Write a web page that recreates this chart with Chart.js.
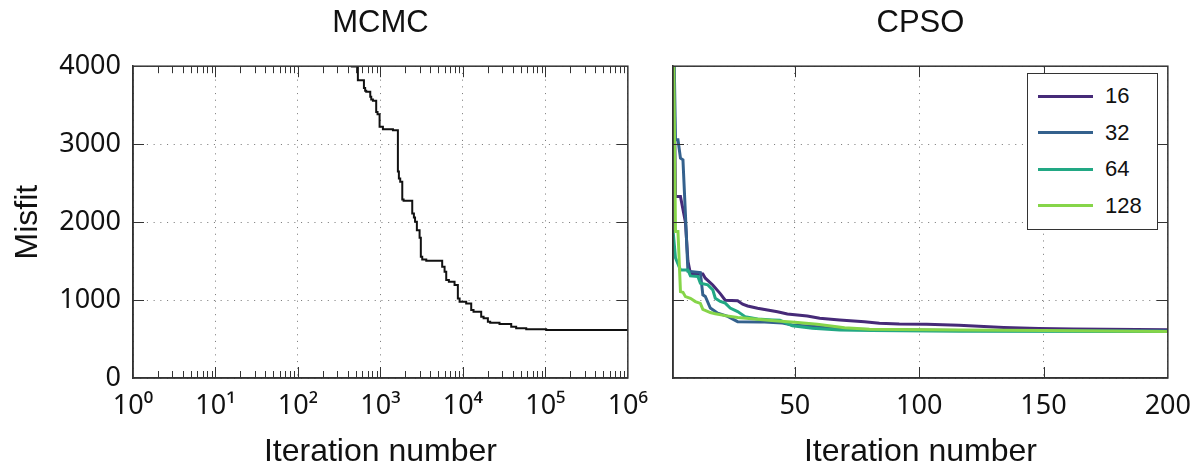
<!DOCTYPE html>
<html>
<head>
<meta charset="utf-8">
<script src="https://cdn.jsdelivr.net/npm/chart.js@4/dist/chart.umd.min.js"></script>
<style>
html,body{margin:0;padding:0;background:#fff;}
#wrap{position:relative;width:1203px;height:466px;overflow:hidden;background:#fff;}
#cA{position:absolute;left:0;top:0;width:660px;height:466px;}
#cB{position:absolute;left:660px;top:0;width:543px;height:466px;}
#legend{position:absolute;left:1027px;top:73px;width:131px;height:157px;box-sizing:border-box;border:1.5px solid #333;background:#fff;font-family:"Liberation Sans",Arial,sans-serif;font-size:22px;color:#111;}
.item{position:absolute;left:9.5px;height:30px;display:flex;align-items:center;line-height:30px;}
.swatch{width:55px;height:3px;margin-right:12.5px;}
</style>
</head>
<body>
<div id="wrap">
  <canvas id="cA" width="660" height="466"></canvas>
  <canvas id="cB" width="543" height="466"></canvas>
  <div id="legend"></div>
</div>
<script>
// ---------------- DATA ----------------
const panelTitles = ['MCMC', 'CPSO'];
const xAxisTitle = 'Iteration number';
const yAxisTitle = 'Misfit';

// MCMC: best misfit vs iteration (log x)
const mcmcIter = [1, 40, 200, 450, 533, 631, 653, 673, 753, 774, 811, 889, 923, 977, 1072, 1419, 1629, 1675, 1738, 1841, 1910, 2432, 2547, 2630, 2767, 2985, 3090, 3214, 3597, 5610, 5998, 6281, 6761, 7925, 8690, 9120, 10965, 12618, 13459, 16672, 17824, 20091, 21429, 27797, 38548, 44259, 58614, 102329, 1000000];
const mcmcMisfit = [9800, 7000, 5000, 4200, 3995, 3820, 3720, 3684, 3671, 3607, 3573, 3556, 3414, 3385, 3222, 3192, 3179, 2650, 2560, 2517, 2291, 2274, 2111, 2060, 2004, 1897, 1800, 1556, 1521, 1504, 1427, 1363, 1256, 1235, 1192, 1021, 979, 957, 872, 850, 786, 765, 722, 709, 692, 658, 637, 624, 615];

// CPSO: swarm sizes
const cpsoLabels = ['16', '32', '64', '128'];
const cpsoColors = ['#462a78', '#34618d', '#22a884', '#86d549'];

const cpso16Iter = [1, 2, 4, 6, 7, 8, 13, 14, 17, 20, 22, 27, 29, 31, 35, 43, 47, 55, 60, 68, 78, 84, 92, 103, 116, 134, 148, 162, 200];
const cpso16Misfit = [5000, 2330, 2330, 2000, 1500, 1340, 1335, 1280, 1194, 1083, 998, 990, 947, 924, 894, 850, 820, 796, 766, 745, 723, 702, 693, 689, 676, 649, 636, 628, 619];

const cpso32Iter = [1, 2, 3, 4, 5, 6, 7, 12, 13, 14, 16, 19, 23, 27, 36, 45, 49, 58, 67, 72, 116, 200];
const cpso32Misfit = [5000, 3056, 3056, 2820, 2800, 2100, 1370, 1353, 1067, 1046, 897, 832, 790, 723, 720, 704, 680, 662, 628, 625, 608, 605];

const cpso64Iter = [1, 2, 4, 7, 8, 11, 12, 15, 17, 18, 20, 22, 24, 27, 30, 35, 41, 44, 49, 57, 68, 81, 116, 200];
const cpso64Misfit = [1900, 1541, 1387, 1387, 1310, 1302, 1217, 1195, 1131, 1023, 982, 960, 897, 852, 787, 757, 745, 740, 670, 637, 616, 608, 600, 596];

const cpso128Iter = [1, 2, 3, 4, 5, 6, 8, 10, 12, 13, 16, 18, 22, 27, 35, 43, 50, 59, 70, 80, 116, 150, 200];
const cpso128Misfit = [5000, 1879, 1879, 1108, 1100, 1044, 1022, 980, 958, 880, 840, 825, 800, 775, 753, 732, 715, 689, 646, 625, 616, 608, 598];

// tick values / labels
const yTicks = [0, 1000, 2000, 3000, 4000];
const logDecades = [1, 10, 100, 1000, 10000, 100000, 1000000];
const logDecadeLabels = ['10\u2070', '10\u00b9', '10\u00b2', '10\u00b3', '10\u2074', '10\u2075', '10\u2076'];
const cpsoXTicks = [50, 100, 150, 200];

// ---------------- STYLE ----------------
const FONT = '"Liberation Sans", Arial, sans-serif';
const TICKFONT = '"Noto Sans", "DejaVu Sans", sans-serif';
const AXIS = '#333';
const GRID = '#808080';
const TEXT = '#111';
Chart.defaults.font.family = FONT;
Chart.defaults.color = TEXT;

const toXY = (xs, ys) => xs.map((x, i) => ({x: x, y: ys[i]}));

const framePlugin = {
  id: 'frame',
  afterDatasetsDraw(chart) {
    const {ctx, chartArea: a, scales} = chart;
    ctx.save();
    ctx.strokeStyle = AXIS;
    ctx.lineWidth = 1;
    ctx.beginPath();
    const xs = scales.x;
    xs.ticks.forEach(t => {
      const px = Math.round(xs.getPixelForValue(t.value)) + 0.5;
      if (px < a.left + 1 || px > a.right - 1) return;
      const len = t.major ? 11 : 7;
      ctx.moveTo(px, a.bottom); ctx.lineTo(px, a.bottom - len);
      ctx.moveTo(px, a.top); ctx.lineTo(px, a.top + len);
    });
    const ys = scales.y;
    ys.ticks.forEach(t => {
      const py = Math.round(ys.getPixelForValue(t.value)) + 0.5;
      if (py < a.top + 1 || py > a.bottom - 1) return;
      ctx.moveTo(a.left, py); ctx.lineTo(a.left + 11, py);
      ctx.moveTo(a.right, py); ctx.lineTo(a.right - 11, py);
    });
    ctx.stroke();
    ctx.lineWidth = 1.5;
    ctx.strokeRect(a.left, a.top, a.right - a.left, a.bottom - a.top);
    ctx.restore();
  }
};

function titleOpts(text) {
  return {
    display: true, text: text, fullSize: false,
    font: {size: 31, weight: 'normal', family: FONT}, color: TEXT,
    padding: {top: 5, bottom: 24}
  };
}

const gridDotted = {color: GRID, lineWidth: 1, drawTicks: false};
const borderOpts = {color: AXIS, width: 1.5, dash: [1.1, 5.6]};
const xTitle = {display: true, text: xAxisTitle, font: {size: 32, family: FONT}, color: TEXT, padding: {top: 0, bottom: -5}};

// ---------------- MCMC chart ----------------
new Chart(document.getElementById('cA'), {
  type: 'line',
  data: {
    datasets: [{
      data: toXY(mcmcIter, mcmcMisfit),
      borderColor: '#111', borderWidth: 2, pointRadius: 0,
      stepped: 'after', fill: false
    }]
  },
  options: {
    responsive: false, animation: false,
    layout: {padding: {left: 0, right: 32, top: 0, bottom: 0}},
    plugins: {legend: {display: false}, tooltip: {enabled: false}, title: titleOpts(panelTitles[0])},
    scales: {
      x: {
        type: 'logarithmic', min: 1, max: 1000000,
        afterBuildTicks(scale) {
          const t = [];
          logDecades.forEach((d, i) => {
            t.push({value: d, major: true});
            if (i < logDecades.length - 1) for (let m = 2; m <= 9; m++) t.push({value: d * m, major: false});
          });
          scale.ticks = t;
        },
        afterFit(scale) { scale.height = 88; },
        ticks: {
          autoSkip: false, maxRotation: 0, minRotation: 0, padding: 12,
          font: {size: 27, family: TICKFONT}, color: TEXT,
          callback(v) { const i = logDecades.indexOf(v); return i >= 0 ? logDecadeLabels[i] : ''; }
        },
        grid: Object.assign({}, gridDotted, {
          color: (c) => (c.tick && logDecades.indexOf(c.tick.value) >= 0) ? GRID : 'rgba(0,0,0,0)'
        }),
        border: borderOpts,
        title: xTitle
      },
      y: {
        min: 0, max: 4000,
        afterBuildTicks(scale) { scale.ticks = yTicks.map(v => ({value: v, major: true})); },
        afterFit(scale) { scale.width = 133; },
        ticks: {padding: 12, font: {size: 27, family: TICKFONT}, color: TEXT, callback: v => String(v)},
        grid: gridDotted,
        border: borderOpts,
        title: {display: true, text: yAxisTitle, font: {size: 32, family: FONT}, color: TEXT, padding: {top: 9, bottom: 0}}
      }
    }
  },
  plugins: [framePlugin]
});

// ---------------- CPSO chart ----------------
const cpsoIters = [cpso16Iter, cpso32Iter, cpso64Iter, cpso128Iter];
const cpsoMisfits = [cpso16Misfit, cpso32Misfit, cpso64Misfit, cpso128Misfit];

new Chart(document.getElementById('cB'), {
  type: 'line',
  data: {
    datasets: cpsoLabels.map((lab, i) => ({
      label: lab,
      data: toXY(cpsoIters[i], cpsoMisfits[i]),
      borderColor: cpsoColors[i], borderWidth: 3, pointRadius: 0,
      fill: false, tension: 0, order: cpsoLabels.length - 1 - i
    }))
  },
  options: {
    responsive: false, animation: false,
    layout: {padding: {left: 0, right: 35, top: 0, bottom: 0}},
    plugins: {legend: {display: false}, tooltip: {enabled: false}, title: titleOpts(panelTitles[1])},
    scales: {
      x: {
        type: 'linear', min: 1, max: 200,
        afterBuildTicks(scale) { scale.ticks = cpsoXTicks.map(v => ({value: v, major: true})); },
        afterFit(scale) { scale.height = 88; },
        ticks: {autoSkip: false, maxRotation: 0, minRotation: 0, padding: 12, font: {size: 27, family: TICKFONT}, color: TEXT, callback: v => String(v)},
        grid: gridDotted,
        border: borderOpts,
        title: xTitle
      },
      y: {
        min: 0, max: 4000,
        afterBuildTicks(scale) { scale.ticks = yTicks.map(v => ({value: v, major: true})); },
        afterFit(scale) { scale.width = 13; },
        ticks: {display: false},
        grid: gridDotted,
        border: borderOpts
      }
    }
  },
  plugins: [framePlugin]
});

// ---------------- legend (HTML, real text) ----------------
const legendBox = document.getElementById('legend');
cpsoLabels.forEach((lab, i) => {
  const row = document.createElement('div');
  row.className = 'item';
  row.style.top = (7 + i * 36.5) + 'px';
  const sw = document.createElement('div');
  sw.className = 'swatch';
  sw.style.background = cpsoColors[i];
  const tx = document.createElement('span');
  tx.textContent = lab;
  row.appendChild(sw); row.appendChild(tx);
  legendBox.appendChild(row);
});
</script>
</body>
</html>
